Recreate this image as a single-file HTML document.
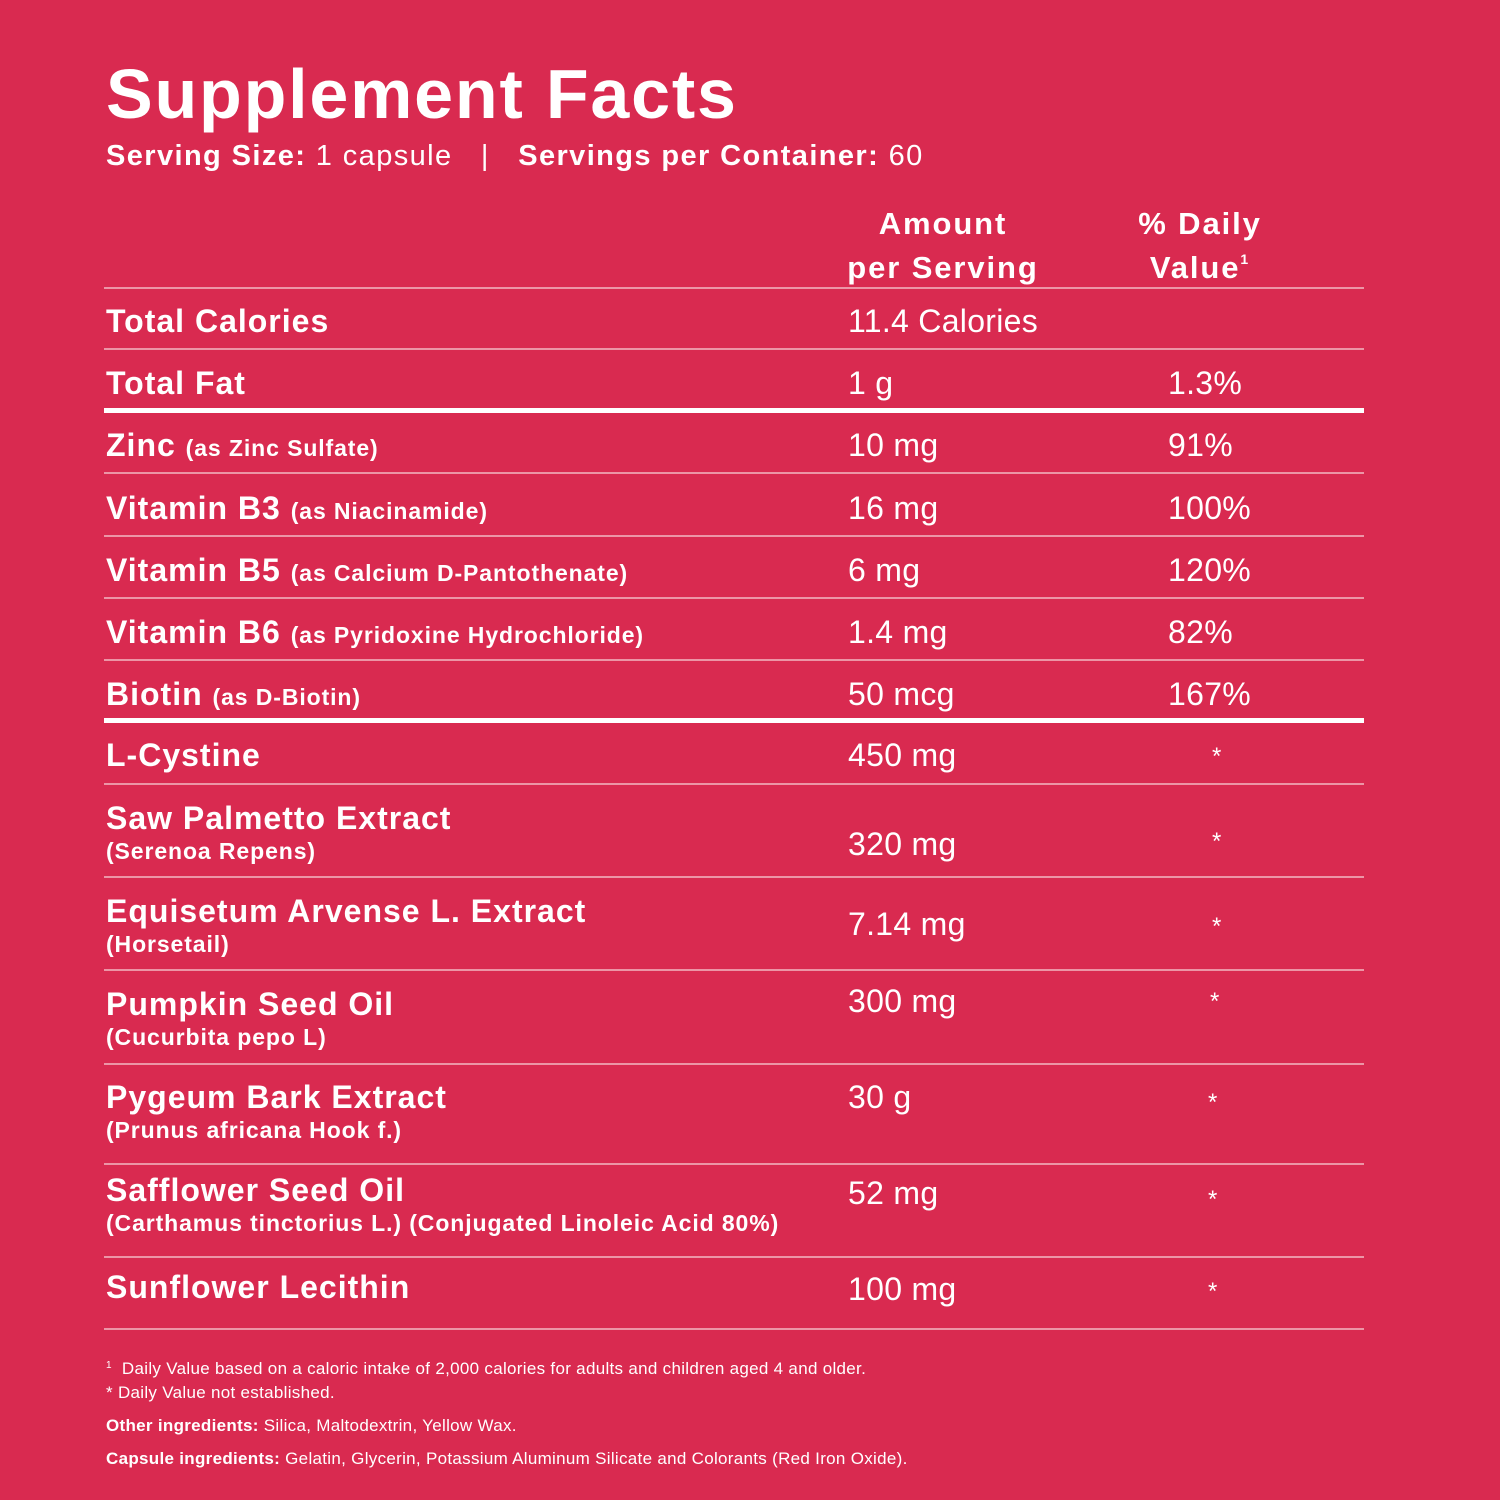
<!DOCTYPE html>
<html><head><meta charset="utf-8"><style>
*{margin:0;padding:0}
body{width:1500px;height:1500px;background:#d92a50;position:relative;overflow:hidden;font-family:"Liberation Sans",sans-serif;color:#fff}
.t{position:absolute;white-space:nowrap;line-height:1}
.b{font-weight:bold}
.l{position:absolute;left:104px;width:1260px;height:2px;background:#ec95a6}
.L{position:absolute;left:104px;width:1260px;height:5px;background:#fff}
.m{font-size:32px;font-weight:bold;letter-spacing:1px}
.a{font-size:32px;letter-spacing:0.3px}
.s{font-size:23px;font-weight:bold;letter-spacing:0.9px}
.f{font-size:17px;letter-spacing:0.3px}
.x{font-size:24px}
</style></head><body>
<div class="t b" style="left:106px;top:59px;font-size:70px;letter-spacing:1.8px">Supplement Facts</div>
<div class="t" style="left:106px;top:142px;font-size:29px;letter-spacing:1.4px"><b>Serving Size:</b> 1 capsule &nbsp; | &nbsp; <b>Servings per Container:</b> 60</div>
<div class="t b" style="left:843px;width:200px;text-align:center;top:202px;font-size:31px;line-height:44px;letter-spacing:1.9px">Amount<br>per Serving</div>
<div class="t b" style="left:1100px;width:200px;text-align:center;top:202px;font-size:31px;line-height:44px;letter-spacing:1.9px">% Daily<br>Value<span style="font-size:14px;position:relative;top:-14px">1</span></div>

<div class="l" style="top:287px"></div>
<div class="l" style="top:348px"></div>
<div class="L" style="top:408px"></div>
<div class="l" style="top:472px"></div>
<div class="l" style="top:535px"></div>
<div class="l" style="top:597px"></div>
<div class="l" style="top:659px"></div>
<div class="L" style="top:718px"></div>
<div class="l" style="top:783px"></div>
<div class="l" style="top:876px"></div>
<div class="l" style="top:969px"></div>
<div class="l" style="top:1063px"></div>
<div class="l" style="top:1163px"></div>
<div class="l" style="top:1256px"></div>
<div class="l" style="top:1328px"></div>

<div class="t m" style="left:106px;top:305px">Total Calories</div>
<div class="t a" style="left:848px;top:305px">11.4 Calories</div>
<div class="t m" style="left:106px;top:367px">Total Fat</div>
<div class="t a" style="left:848px;top:367px">1 g</div>
<div class="t a" style="left:1168px;top:367px">1.3%</div>

<div class="t m" style="left:106px;top:429px">Zinc <span class="s">(as Zinc Sulfate)</span></div>
<div class="t a" style="left:848px;top:429px">10 mg</div>
<div class="t a" style="left:1168px;top:429px">91%</div>
<div class="t m" style="left:106px;top:492px">Vitamin B3 <span class="s">(as Niacinamide)</span></div>
<div class="t a" style="left:848px;top:492px">16 mg</div>
<div class="t a" style="left:1168px;top:492px">100%</div>
<div class="t m" style="left:106px;top:554px">Vitamin B5 <span class="s">(as Calcium D-Pantothenate)</span></div>
<div class="t a" style="left:848px;top:554px">6 mg</div>
<div class="t a" style="left:1168px;top:554px">120%</div>
<div class="t m" style="left:106px;top:616px">Vitamin B6 <span class="s">(as Pyridoxine Hydrochloride)</span></div>
<div class="t a" style="left:848px;top:616px">1.4 mg</div>
<div class="t a" style="left:1168px;top:616px">82%</div>
<div class="t m" style="left:106px;top:678px">Biotin <span class="s">(as D-Biotin)</span></div>
<div class="t a" style="left:848px;top:678px">50 mcg</div>
<div class="t a" style="left:1168px;top:678px">167%</div>

<div class="t m" style="left:106px;top:739px">L-Cystine</div>
<div class="t a" style="left:848px;top:739px">450 mg</div>
<div class="t x" style="left:1212px;top:745px">*</div>

<div class="t m" style="left:106px;top:802px">Saw Palmetto Extract</div>
<div class="t s" style="left:106px;top:840px">(Serenoa Repens)</div>
<div class="t a" style="left:848px;top:828px">320 mg</div>
<div class="t x" style="left:1212px;top:830px">*</div>

<div class="t m" style="left:106px;top:895px">Equisetum Arvense L. Extract</div>
<div class="t s" style="left:106px;top:933px">(Horsetail)</div>
<div class="t a" style="left:848px;top:908px">7.14 mg</div>
<div class="t x" style="left:1212px;top:915px">*</div>

<div class="t m" style="left:106px;top:988px">Pumpkin Seed Oil</div>
<div class="t s" style="left:106px;top:1026px">(Cucurbita pepo L)</div>
<div class="t a" style="left:848px;top:985px">300 mg</div>
<div class="t x" style="left:1210px;top:990px">*</div>

<div class="t m" style="left:106px;top:1081px">Pygeum Bark Extract</div>
<div class="t s" style="left:106px;top:1119px">(Prunus africana Hook f.)</div>
<div class="t a" style="left:848px;top:1081px">30 g</div>
<div class="t x" style="left:1208px;top:1091px">*</div>

<div class="t m" style="left:106px;top:1174px">Safflower Seed Oil</div>
<div class="t s" style="left:106px;top:1212px">(Carthamus tinctorius L.) (Conjugated Linoleic Acid 80%)</div>
<div class="t a" style="left:848px;top:1177px">52 mg</div>
<div class="t x" style="left:1208px;top:1188px">*</div>

<div class="t m" style="left:106px;top:1271px">Sunflower Lecithin</div>
<div class="t a" style="left:848px;top:1273px">100 mg</div>
<div class="t x" style="left:1208px;top:1280px">*</div>

<div class="t f" style="left:106px;top:1360px"><span style="font-size:10px;position:relative;top:-6px">1</span>&nbsp; Daily Value based on a caloric intake of 2,000 calories for adults and children aged 4 and older.</div>
<div class="t f" style="left:106px;top:1384px">* Daily Value not established.</div>
<div class="t f" style="left:106px;top:1417px"><b>Other ingredients:</b> Silica, Maltodextrin, Yellow Wax.</div>
<div class="t f" style="left:106px;top:1450px"><b>Capsule ingredients:</b> Gelatin, Glycerin, Potassium Aluminum Silicate and Colorants (Red Iron Oxide).</div>
</body></html>
